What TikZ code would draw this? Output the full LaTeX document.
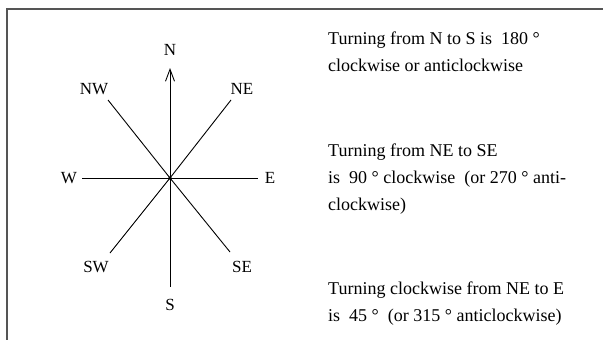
\documentclass[tikz,border=0pt]{standalone}
\usepackage{fontspec}
\setmainfont{Liberation Serif}
\usepackage{tikz}
\usetikzlibrary{arrows.meta}
\definecolor{framegray}{HTML}{555555}

\begin{document}
\begin{tikzpicture}[x=1pt,y=-1pt,
    ray/.style={black, line width=0.9pt},
    dirlabel/.style={font=\fontsize{17}{20}\selectfont, inner sep=0pt},
    note/.style={anchor=north west, align=left, inner sep=0pt,
                 font=\fontsize{18}{27}\selectfont}]

  \useasboundingbox (0,0) rectangle (603,340);

  % ----- frame -----
  \coordinate (frame-bl) at (7,340);
  \coordinate (frame-tl) at (7,9);
  \coordinate (frame-tr) at (603,9);
  \draw[framegray, line width=1.5pt] (frame-bl) -- (frame-tl) -- (frame-tr);

  % ----- compass: ray ends and labels -----
  \coordinate (O) at (170,178);
  \foreach \d/\ex/\ey/\lx/\ly in {N/170/68/170/50, S/170/287/170/305,
                                  E/258/178/270/178, W/82/178/69/178,
                                  NE/231/100/242/89, NW/108/100/94/89,
                                  SE/230/252/242/267, SW/110/253/96/267}{
    \coordinate (\d-tip) at (\ex,\ey);
    \node[dirlabel] (\d) at (\lx,\ly) {\d};
  }

  \draw[ray, -{Straight Barb[length=12pt,width=9pt]}] (O) -- (N-tip);
  \foreach \d in {NE,E,SE,S,SW,W,NW}
    \draw[ray] (O) -- (\d-tip);
  \fill (O) circle (1.8pt);

  % ----- notes -----
  \node[note] (note-ns) at (328,31.5)
    {Turning from N to S is\enspace 180 °\\clockwise or anticlockwise};
  \node[note] (note-nese) at (328,143.5)
    {Turning from NE to SE\\is\enspace 90 ° clockwise\enspace (or 270 ° anti-\\clockwise)};
  \node[note] (note-nee) at (328,282)
    {Turning clockwise from NE to E\\is\enspace 45 °\enspace (or 315 ° anticlockwise)};

\end{tikzpicture}
\end{document}
